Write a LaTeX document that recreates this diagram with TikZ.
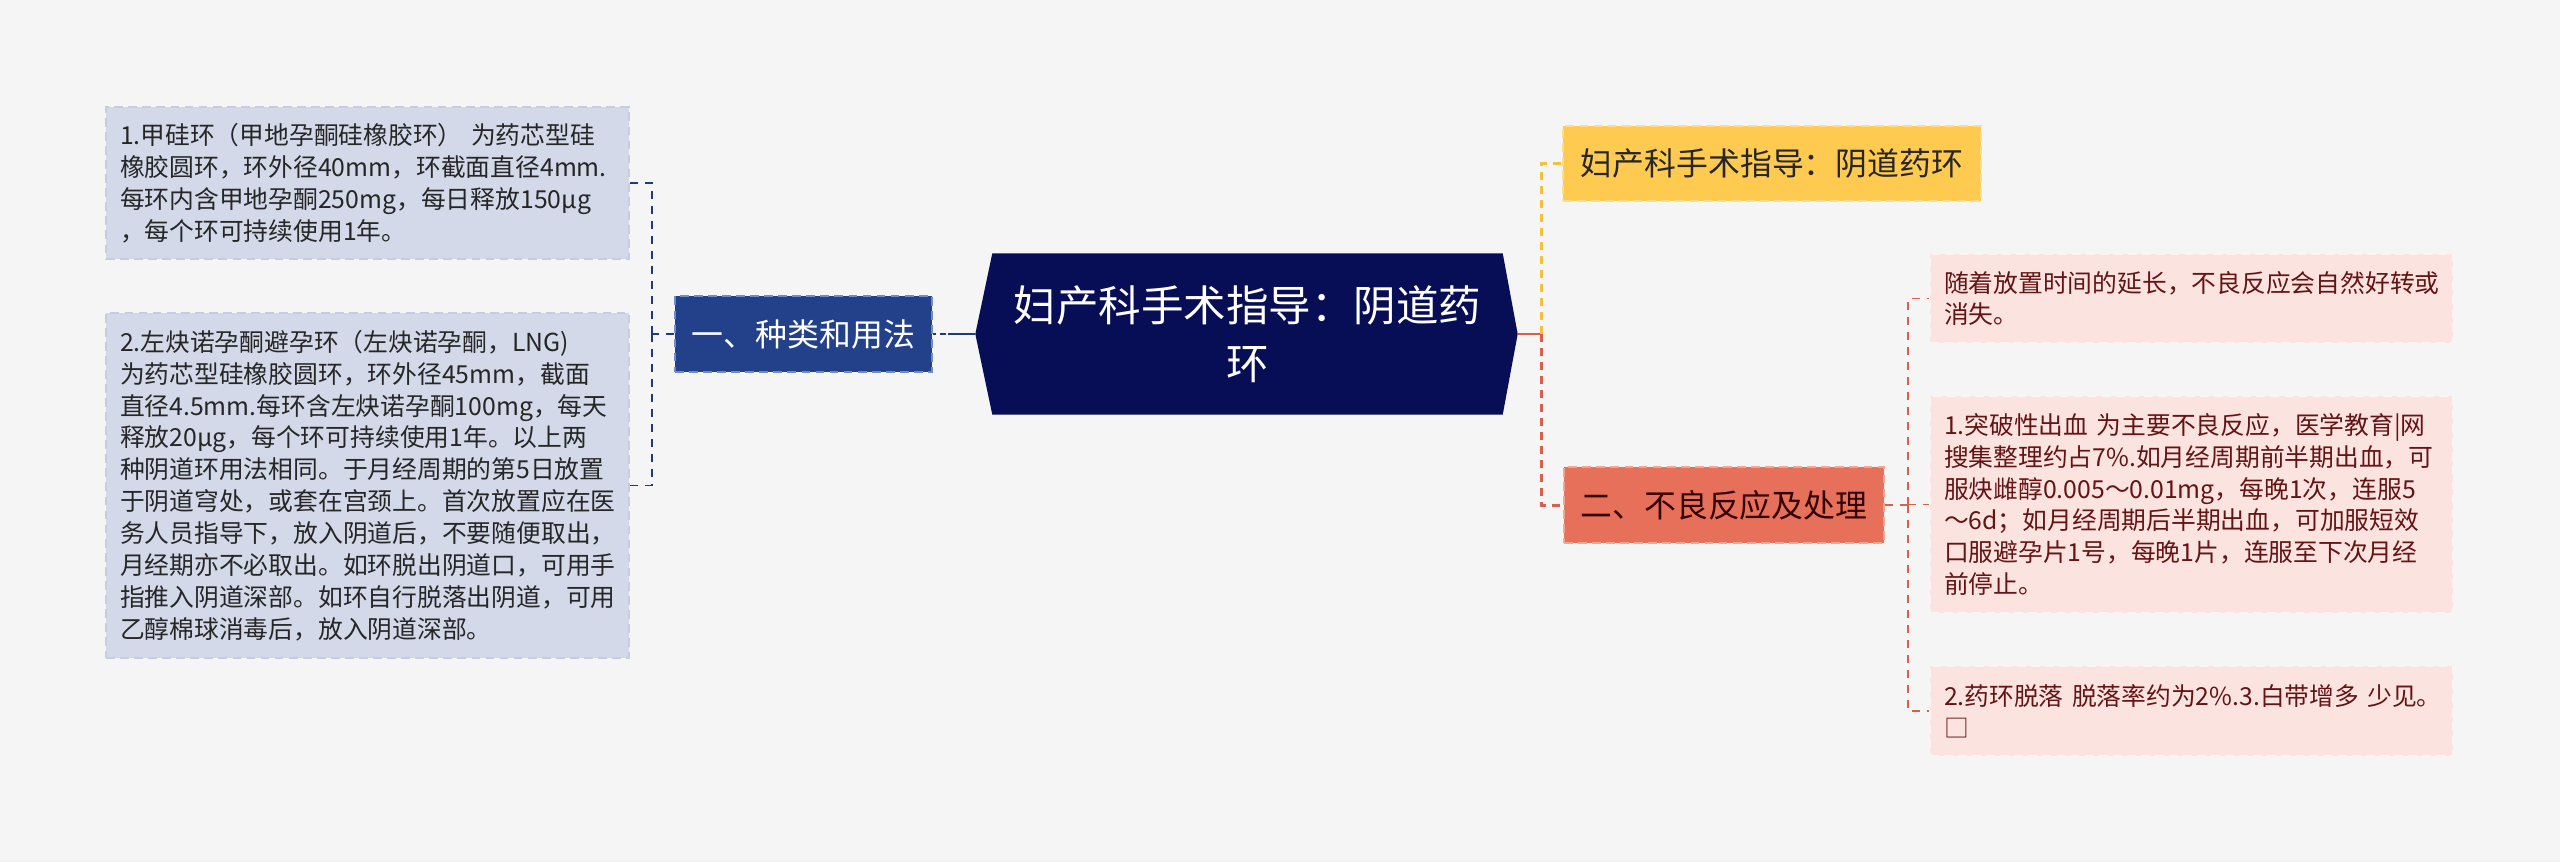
\documentclass[tikz,border=0pt]{standalone}
\usepackage{fontspec}
\setmainfont{Noto Sans CJK SC}
\definecolor{pageC}{RGB}{245,245,245}
\definecolor{rootC}{RGB}{8,14,85}
\definecolor{kindC}{RGB}{34,65,138}
\definecolor{kindL}{RGB}{110,140,200}
\definecolor{ringC}{RGB}{211,217,233}
\definecolor{ringL}{RGB}{198,205,227}
\definecolor{ylwC}{RGB}{255,202,80}
\definecolor{ylwL}{RGB}{250,222,140}
\definecolor{badC}{RGB}{230,112,90}
\definecolor{badL}{RGB}{242,165,145}
\definecolor{effC}{RGB}{251,228,224}
\definecolor{effL}{RGB}{255,243,240}
\definecolor{effT}{RGB}{100,20,20}
\definecolor{lnBlue}{RGB}{30,58,125}
\definecolor{lnYlw}{RGB}{245,192,60}
\definecolor{lnRed}{RGB}{215,95,75}
\pgfdeclarelayer{bg}
\pgfsetlayers{bg,main}

\begin{document}
\begin{tikzpicture}[
  small/.style={font=\fontsize{7.05}{9.07}\selectfont},
  ring/.style={small, rectangle, fill=ringC, draw=ringL, line width=0.5pt,
               dash pattern=on 2.5pt off 1.5pt, text width=4.95cm,
               inner xsep=0.14cm, inner ysep=0pt, align=left, text=black!85},
  eff/.style={ring, fill=effC, draw=effL, text=effT},
  branch/.style={rectangle, line width=0.6pt, dash pattern=on 2.5pt off 1.5pt,
                 inner sep=0pt, minimum height=0.76cm,
                 font=\fontsize{9.07}{11}\selectfont},
  rootbox/.style={rectangle, inner sep=0pt, minimum width=5.09cm,
                  minimum height=1.6cm, text width=5.09cm, align=center,
                  text=white, font=\fontsize{12.1}{16.4}\selectfont},
  thickln/.style={line width=0.85pt, dash pattern=on 0.08cm off 0.06cm},
  thinln/.style={line width=0.45pt, dash pattern=on 0.08cm off 0.07cm},
]
\useasboundingbox (0,0) rectangle (25.6,8.62);
\begin{pgfonlayer}{bg}
  \fill[pageC] (0,0) rectangle (25.6,8.62);
\end{pgfonlayer}

% ---- centre ----
\node[rootbox] (root) at (12.475,5.28) {妇产科手术指导：阴道药\\环};
\coordinate (rootL) at ([xshift=-0.17cm]root.west);
\coordinate (rootR) at ([xshift=0.15cm]root.east);
\begin{pgfonlayer}{bg}
  \fill[rootC] (rootL) -- (root.north west) -- (root.north east) -- (rootR)
    -- (root.south east) -- (root.south west) -- cycle;
\end{pgfonlayer}

% ---- left: kinds and use ----
\node[branch, fill=kindC, draw=kindL, minimum width=2.57cm, text=white]
  (kind) at (8.035,5.28) {一、种类和用法};
\node[ring, minimum height=1.52cm] (ring1) at (3.675,6.79)
  {1.甲硅环（甲地孕酮硅橡胶环） 为药芯型硅\\
   橡胶圆环，环外径40mm，环截面直径4mm.\\
   每环内含甲地孕酮250mg，每日释放150μg\\
   ，每个环可持续使用1年。};
\node[ring, minimum height=3.45cm] (ring2) at (3.675,3.765)
  {2.左炔诺孕酮避孕环（左炔诺孕酮，LNG)\\
   为药芯型硅橡胶圆环，环外径45mm，截面\\
   直径4.5mm.每环含左炔诺孕酮100mg，每天\\
   释放20μg，每个环可持续使用1年。以上两\\
   种阴道环用法相同。于月经周期的第5日放置\\
   于阴道穹处，或套在宫颈上。首次放置应在医\\
   务人员指导下，放入阴道后，不要随便取出，\\
   月经期亦不必取出。如环脱出阴道口，可用手\\
   指推入阴道深部。如环自行脱落出阴道，可用\\
   乙醇棉球消毒后，放入阴道深部。};
\coordinate (brL) at (6.52,5.28);

\draw[lnBlue, line width=0.75pt,
      dash pattern=on 0.03cm off 0.04cm on 0.06cm off 0.02cm on 0.5cm]
  (kind.east) -- (rootL);
\draw[lnBlue, thinln] (kind.west) -- (brL) (brL) |- (ring1.east) (brL) |- (ring2.east);

% ---- right: title and adverse reactions ----
\node[branch, fill=ylwC, draw=ylwL, minimum width=4.18cm, minimum height=0.75cm,
      text=black!85] (title) at (17.72,6.985) {妇产科手术指导：阴道药环};
\node[branch, fill=badC, draw=badL, minimum width=3.2cm, text=black!80!red]
  (bad) at (17.24,3.57) {二、不良反应及处理};
\node[eff, minimum height=0.89cm] (eff1) at (21.915,5.635)
  {随着放置时间的延长，不良反应会自然好转或\\
   消失。};
\node[eff, minimum height=2.17cm] (eff2) at (21.915,3.575)
  {1.突破性出血 为主要不良反应，医学教育|网\\
   搜集整理约占7\%.如月经周期前半期出血，可\\
   服炔雌醇0.005～0.01mg，每晚1次，连服5\\
   ～6d；如月经周期后半期出血，可加服短效\\
   口服避孕片1号，每晚1片，连服至下次月经\\
   前停止。};
\node[eff, minimum height=0.9cm] (eff3) at (21.915,1.51)
  {\mbox{2.药环脱落 脱落率约为2\%.3.白带增多 少见。}\\
   □};
\coordinate (brR) at (15.41,5.28);
\coordinate (brR2) at (19.08,3.57);

\draw[lnRed, line width=0.85pt] (rootR) -- (brR);
\draw[lnYlw, thickln] (brR) |- (title.west);
\draw[lnRed, thickln] (brR) |- (bad.west);
\draw[lnRed, thinln] (bad.east) -- (brR2) (brR2) |- (eff1.west)
  (brR2) |- (eff2.west) (brR2) |- (eff3.west);

\end{tikzpicture}
\end{document}
